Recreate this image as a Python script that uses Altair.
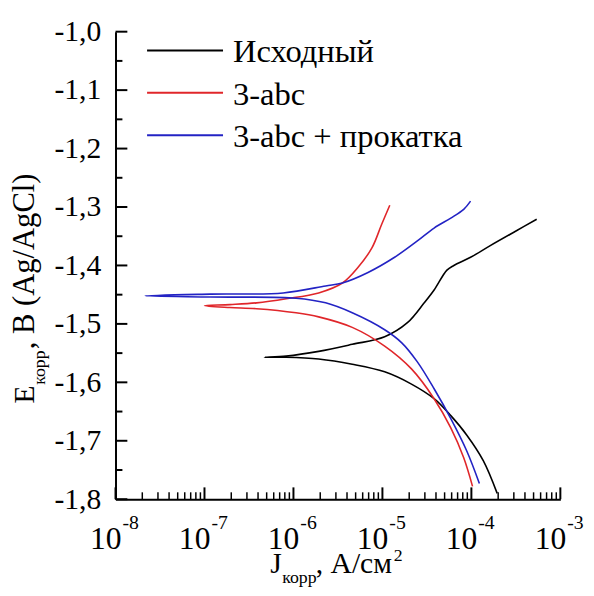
import altair as alt
import pandas as pd

names = ["Исходный", "3-abc", "3-abc + прокатка"]
colors = ["#000000", "#e0262a", "#2323c4"]

# Исходный (cathodic end -> Ecorr -> anodic end)
j_black = [1.95e-4, 1.36e-4, 8.85e-5, 5.87e-5, 3.81e-5, 2.12e-5, 1.06e-5, 4.58e-6, 1.92e-6, 8.28e-7, 4.72e-7,
           8.28e-7, 1.92e-6, 4.58e-6, 1.06e-5, 1.91e-5, 2.95e-5, 3.81e-5, 5.31e-5, 6.35e-5, 9.79e-5, 1.63e-4, 3.17e-4, 5.42e-4]
e_black = [-1.790, -1.734, -1.690, -1.657, -1.628, -1.603, -1.582, -1.569, -1.560, -1.557, -1.557,
           -1.555, -1.547, -1.535, -1.522, -1.498, -1.464, -1.442, -1.408, -1.400, -1.386, -1.366, -1.341, -1.321]

# 3-abc
j_red = [1.03e-4, 8.20e-5, 5.87e-5, 3.81e-5, 2.12e-5, 1.06e-5, 4.58e-6, 1.92e-6, 1.07e-6, 3.85e-7, 1.93e-7, 1.00e-7,
         1.93e-7, 3.85e-7, 8.28e-7, 1.92e-6, 3.55e-6, 5.33e-6, 7.62e-6, 9.84e-6, 1.21e-5]
e_red = [-1.778, -1.729, -1.678, -1.628, -1.577, -1.538, -1.506, -1.488, -1.481, -1.474, -1.472, -1.469,
         -1.467, -1.464, -1.457, -1.447, -1.430, -1.403, -1.370, -1.329, -1.297]

# 3-abc + прокатка
j_blue = [1.23e-4, 8.85e-5, 5.87e-5, 3.81e-5, 2.47e-5, 1.64e-5, 1.06e-5, 4.58e-6, 2.30e-6, 1.07e-6, 1.16e-7, 2.15e-8,
          1.16e-7, 7.67e-7, 2.30e-6, 3.55e-6, 6.89e-6, 1.37e-5, 2.47e-5, 3.81e-5, 5.87e-5, 8.20e-5, 9.79e-5]
e_blue = [-1.773, -1.717, -1.662, -1.611, -1.565, -1.532, -1.510, -1.481, -1.464, -1.456, -1.454, -1.452,
          -1.449, -1.447, -1.435, -1.430, -1.412, -1.386, -1.358, -1.336, -1.319, -1.304, -1.290]

y_major = [-1.0, -1.1, -1.2, -1.3, -1.4, -1.5, -1.6, -1.7, -1.8]
y_minor = [-1.05, -1.15, -1.25, -1.35, -1.45, -1.55, -1.65, -1.75]
x_decades = [1e-8, 1e-7, 1e-6, 1e-5, 1e-4, 1e-3]
x_exp_labels = ["-8", "-7", "-6", "-5", "-4", "-3"]
x_minor = [k * 10.0 ** n for n in range(-8, -3) for k in range(2, 10)]

y_title = ["E", "корр", ", В (Ag/AgCl)"]
x_title = ["J", "корр", ", А/см", "2"]

FONT = "Liberation Serif, Times New Roman, serif"
W, H = 451, 474

rows = []
for name, js, es in zip(names, [j_black, j_red, j_blue], [e_black, e_red, e_blue]):
    for i, (j, e) in enumerate(zip(js, es)):
        rows.append({"series": name, "J": j, "E": e, "i": i})
df = pd.DataFrame(rows)

xs = alt.Scale(type="log", domain=[1e-8, 1e-3], nice=False)
ys = alt.Scale(domain=[-1.8, -1.0], nice=False, zero=False)

ax_x = alt.Axis(labels=False, ticks=False, grid=False, title=None, domainWidth=2, domainColor="black")
ax_y = alt.Axis(values=y_major, grid=False, title=None, ticks=False,
                labelExpr="'-' + replace(format(abs(datum.value), '.1f'), '.', ',')",
                labelFont=FONT, labelFontSize=30, labelColor="black",
                labelPadding=15, domainWidth=2, domainColor="black")

X = alt.X("J:Q", scale=xs, axis=ax_x)
Y = alt.Y("E:Q", scale=ys, axis=ax_y)

lines = alt.Chart(df).mark_line(strokeWidth=1.6, interpolate="catmull-rom").encode(
    x=X, y=Y,
    color=alt.Color("series:N", scale=alt.Scale(domain=names, range=colors), legend=None),
    order="i:Q",
)

ymaj = alt.Chart(pd.DataFrame({"E": y_major})).mark_rule(strokeWidth=2, color="black").encode(
    y=Y, x=alt.value(0), x2=alt.value(12))
ymin = alt.Chart(pd.DataFrame({"E": y_minor})).mark_rule(strokeWidth=2, color="black").encode(
    y=Y, x=alt.value(0), x2=alt.value(7))
xmaj = alt.Chart(pd.DataFrame({"J": x_decades})).mark_rule(strokeWidth=2, color="black").encode(
    x=X, y=alt.value(H), y2=alt.value(H - 12))
xmin = alt.Chart(pd.DataFrame({"J": x_minor})).mark_rule(strokeWidth=1.5, color="black").encode(
    x=X, y=alt.value(H), y2=alt.value(H - 7))

xlab_df = pd.DataFrame({"J": x_decades, "base": ["10"] * len(x_decades), "exp": x_exp_labels})
xlab = alt.Chart(xlab_df).mark_text(align="right", baseline="alphabetic", dx=6, font=FONT,
                                    fontSize=32, color="black").encode(
    x=X, y=alt.value(524), text="base:N")
xexp = alt.Chart(xlab_df).mark_text(align="left", baseline="alphabetic", dx=7, font=FONT,
                                    fontSize=20, color="black").encode(
    x=X, y=alt.value(504), text="exp:N")

one = pd.DataFrame({"a": [0]})


def txt(s, x, y, size, angle=0, baseline="alphabetic"):
    m = alt.Chart(one).mark_text(text=s, align="left", baseline=baseline, font=FONT,
                                 fontSize=size, color="black", angle=angle)
    return m.encode(x=alt.value(x), y=alt.value(y))


titles = [
    txt(y_title[0], -83, 377, 30, 270),
    txt(y_title[1], -71, 358, 18, 270),
    txt(y_title[2], -83, 322, 31, 270),
    txt(x_title[0], 157, 549, 30),
    txt(x_title[1], 169, 559, 18),
    txt(x_title[2], 203, 549, 30),
    txt(x_title[3], 282, 537, 18),
]

# legend (drawn inside the plot, top-left)
legend = []
for k, (name, col) in enumerate(zip(names, colors)):
    yk = 19 + 43 * k
    legend.append(alt.Chart(one).mark_rule(strokeWidth=2, color=col).encode(
        x=alt.value(32), x2=alt.value(109), y=alt.value(yk)))
    legend.append(txt(name, 119, yk + 2, 33, 0, "middle"))

chart = alt.layer(lines, ymaj, ymin, xmaj, xmin, xlab, xexp, *titles, *legend).properties(
    width=W, height=H,
    padding={"left": 109, "top": 20, "right": 26, "bottom": 86},
    autosize="none",
    background="white",
).configure_view(stroke=None)

chart.save("out.html", embed_options={"renderer": "svg", "actions": False})
